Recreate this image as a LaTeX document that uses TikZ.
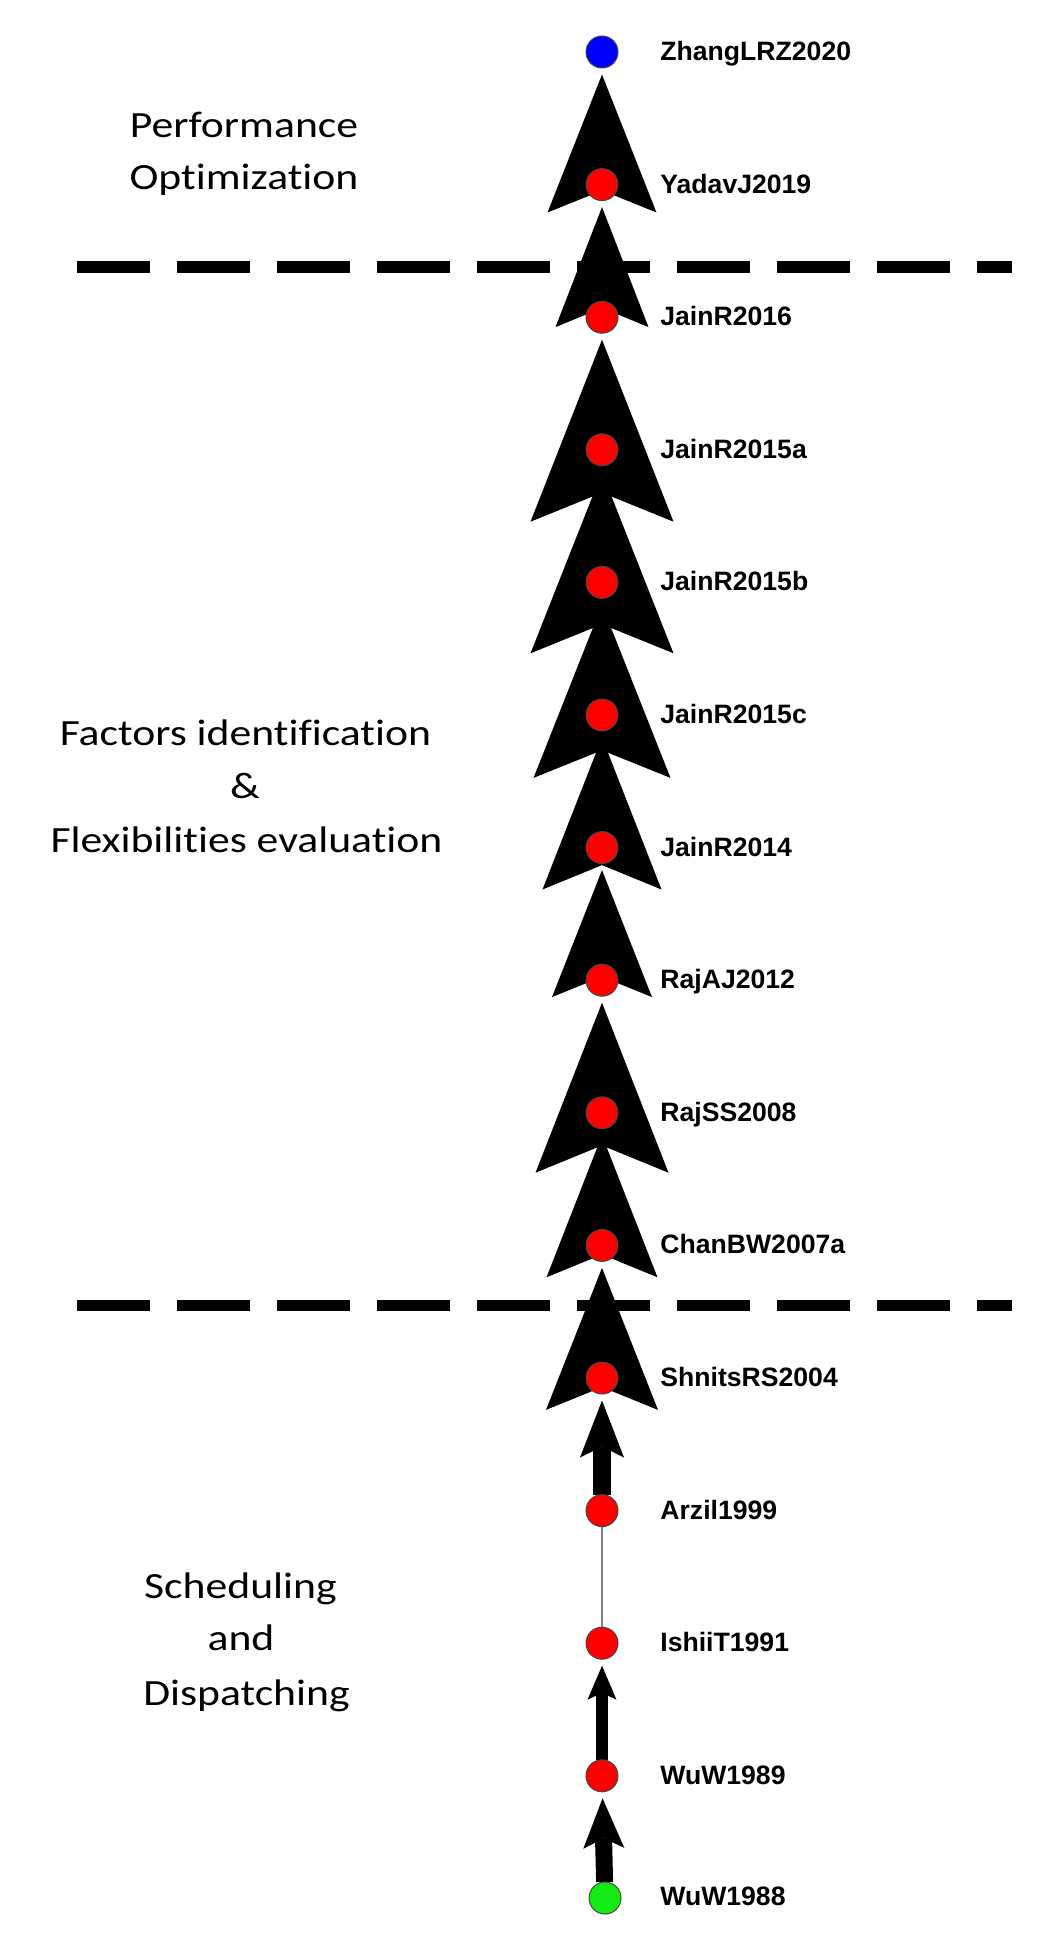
\documentclass[tikz,border=0pt]{standalone}
\usepackage{fontspec}
\usetikzlibrary{arrows.meta}
\newfontfamily\lblfont{Liberation Sans}
\newfontfamily\phasefont{Carlito}[FakeStretch=1.18, Ligatures=NoCommon]
\definecolor{nred}{RGB}{255,0,0}
\definecolor{nblue}{RGB}{0,0,255}
\definecolor{ngreen}{RGB}{20,235,20}
\definecolor{nedge}{RGB}{70,70,70}
\definecolor{thinline}{RGB}{130,130,130}
\begin{document}
\begin{tikzpicture}[x=0.5pt,y=-0.5pt,
  paper/.style={circle, minimum size=16pt, inner sep=0pt, outer sep=0pt, draw=nedge, line width=0.5pt, fill=#1},
  cite/.style={anchor=base west, inner sep=0pt, font=\lblfont\bfseries\fontsize{13.3pt}{15pt}\selectfont},
  phase/.style={anchor=base, inner sep=0pt, font=\phasefont\fontsize{18.5pt}{22pt}\selectfont},
  flow/.style n args={4}{line width=#4, shorten >=3.25pt, -{Stealth[length=#1, width=#2, inset=#3, line width=0pt]}},
  divider/.style={line width=5.5pt, dash pattern=on 36.5pt off 13.5pt}
]
\useasboundingbox (0,0) rectangle (1051,1953);
\fill[white] (0,0) rectangle (1051,1953);

% dividers
\coordinate (d1a) at (77,267);
\coordinate (d1b) at (1012,267);
\coordinate (d2a) at (77,1305);
\coordinate (d2b) at (1012,1305);
\draw[divider] (d1a) -- (d1b);
\draw[divider] (d2a) -- (d2b);

% node positions
\path (602,52) coordinate (pZhang)
      (602,184.6) coordinate (pYadav)
      (602,317.2) coordinate (pJ16)
      (602,449.8) coordinate (pJ15a)
      (602,582.4) coordinate (pJ15b)
      (602,715) coordinate (pJ15c)
      (602,847.6) coordinate (pJ14)
      (602,980.2) coordinate (pRajAJ)
      (602,1112.8) coordinate (pRajSS)
      (602,1245.4) coordinate (pChan)
      (602,1378) coordinate (pShnits)
      (602,1510.6) coordinate (pArzil)
      (602,1643.2) coordinate (pIshii)
      (602,1775.8) coordinate (pWu89)
      (605,1898) coordinate (pWu88);

% invisible placeholders for edge routing
\foreach \n in {Zhang,Yadav,J16,J15a,J15b,J15c,J14,RajAJ,RajSS,Chan,Shnits,Arzil,Ishii,Wu89,Wu88}
  \node[circle, minimum size=16pt, inner sep=0pt, outer sep=0pt] (\n) at (p\n) {};

% edges
\draw[flow={69pt}{54.5pt}{11pt}{9pt}] (Yadav) -- (Zhang);
\draw[flow={60pt}{46.5pt}{9.6pt}{9pt}] (J16) -- (Yadav);
\draw[flow={91pt}{71.5pt}{14.5pt}{9pt}] (J15a) -- (J16);
\draw[flow={90.5pt}{71.5pt}{14.5pt}{9pt}] (J15b) -- (J15a);
\draw[flow={86.5pt}{68.5pt}{13.8pt}{9pt}] (J15c) -- (J15b);
\draw[flow={76pt}{59.5pt}{12.2pt}{9pt}] (J14) -- (J15c);
\draw[flow={63.5pt}{50pt}{10.2pt}{9pt}] (RajAJ) -- (J14);
\draw[flow={85pt}{66.5pt}{13.6pt}{9pt}] (RajSS) -- (RajAJ);
\draw[flow={71pt}{55.5pt}{11.4pt}{9pt}] (Chan) -- (RajSS);
\draw[flow={71pt}{56pt}{11.4pt}{9pt}] (Shnits) -- (Chan);
\draw[flow={28.5pt}{22pt}{5.5pt}{9pt}] (Arzil) -- (Shnits);
\draw[thinline, line width=0.75pt] (Ishii) -- (Arzil);
\draw[flow={17pt}{14.5pt}{3.4pt}{6pt}] (Wu89) -- (Ishii);
\draw[flow={25pt}{20.5pt}{5pt}{8.5pt}] (Wu88) -- (Wu89);

% visible paper nodes
\node[paper=nblue] (cZhang) at (pZhang) {};
\foreach \n in {Yadav,J16,J15a,J15b,J15c,J14,RajAJ,RajSS,Chan,Shnits,Arzil,Ishii,Wu89}
  \node[paper=nred] (c\n) at (p\n) {};
\node[paper=ngreen] (cWu88) at (pWu88) {};

% citation labels
\node[cite] (lZhang) at (660,61) {ZhangLRZ2020};
\node[cite] (lYadav) at (660,193.1) {YadavJ2019};
\node[cite] (lJ16) at (660,325.7) {JainR2016};
\node[cite] (lJ15a) at (660,458.3) {JainR2015a};
\node[cite] (lJ15b) at (660,590.9) {JainR2015b};
\node[cite] (lJ15c) at (660,723.5) {JainR2015c};
\node[cite] (lJ14) at (660,856.1) {JainR2014};
\node[cite] (lRajAJ) at (660,988.7) {RajAJ2012};
\node[cite] (lRajSS) at (660,1121.3) {RajSS2008};
\node[cite] (lChan) at (660,1253.9) {ChanBW2007a};
\node[cite] (lShnits) at (660,1386.5) {ShnitsRS2004};
\node[cite] (lArzil) at (660,1519.1) {Arzil1999};
\node[cite] (lIshii) at (660,1651.7) {IshiiT1991};
\node[cite] (lWu89) at (660,1784.3) {WuW1989};
\node[cite] (lWu88) at (660,1905.5) {WuW1988};

% phase labels
\node[phase] (ph1a) at (244,138) {Performance};
\node[phase] (ph1b) at (244,190) {Optimization};
\node[phase] (ph2a) at (245.5,745) {Factors identification};
\node[phase] (ph2b) at (245,798) {\&};
\node[phase] (ph2c) at (246.5,852) {Flexibilities evaluation};
\node[phase] (ph3a) at (240.5,1598) {Scheduling};
\node[phase] (ph3b) at (241,1650) {and};
\node[phase] (ph3c) at (246.5,1705) {Dispatching};
\end{tikzpicture}
\end{document}
